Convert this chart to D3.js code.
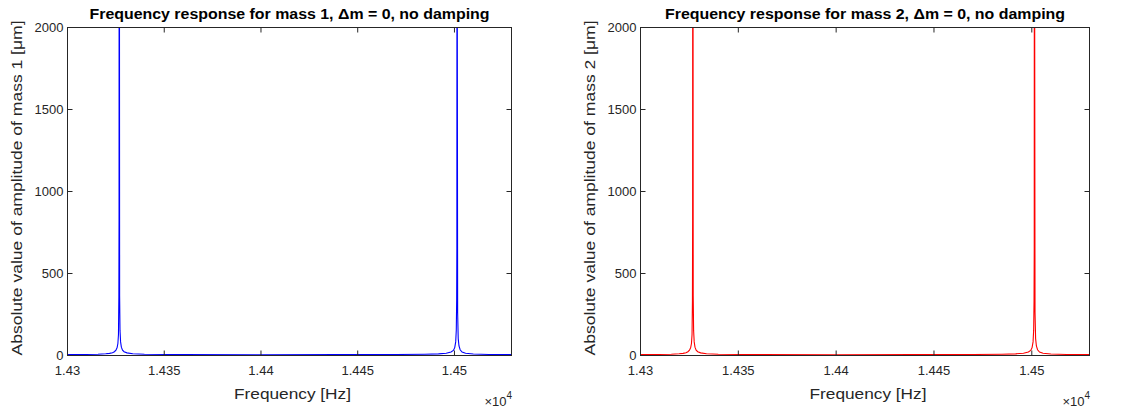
<!DOCTYPE html>
<html>
<head>
<meta charset="utf-8">
<script src="https://cdn.jsdelivr.net/npm/d3@7"></script>
<style>
  body { margin: 0; background: #fff; }
  svg text { font-family: "Liberation Sans", Arial, sans-serif; }
</style>
</head>
<body>
<div id="chart"></div>
<script>
// frequency samples [Hz]
const freq = [14300, 14310, 14316, 14320, 14322, 14323.5, 14324.5, 14325.3, 14325.9, 14326.3,
  14326.6, 14326.8, 14326.9, 14327.0, 14327.1, 14327.2, 14327.4, 14327.7, 14328.1, 14328.7,
  14329.5, 14331, 14334, 14340, 14360, 14400, 14440, 14470, 14485, 14492,
  14496, 14498.5, 14499.7, 14500.4, 14500.9, 14501.2, 14501.4, 14501.5, 14501.6, 14501.7,
  14501.9, 14502.2, 14502.6, 14503.2, 14504.2, 14506, 14510, 14518, 14530];

// amplitude of mass 1 [um]
const amp1 = [2.5, 3.5, 5, 7.5, 10, 14, 20, 30, 45, 70,
  125, 350, 820, 6000, 2600, 360, 150, 80, 48, 30,
  20, 13, 7.5, 4.5, 2.5, 1.5, 2, 3, 5, 7,
  11, 18, 28, 45, 80, 150, 330, 650, 5000, 2400,
  260, 100, 55, 32, 18, 11, 6, 3.5, 2];

// amplitude of mass 2 [um]
const amp2 = [2.5, 3.5, 5, 7.5, 10, 14, 20, 30, 45, 70,
  125, 330, 830, 6000, 2600, 360, 150, 80, 48, 30,
  20, 13, 7.5, 4.5, 2.5, 1.5, 2, 3, 5, 7,
  11, 18, 28, 45, 80, 150, 330, 650, 5000, 2400,
  260, 100, 55, 32, 18, 11, 6, 3.5, 2];

const xTicks = [14300, 14350, 14400, 14450, 14500];
const xTickLabels = ['1.43', '1.435', '1.44', '1.445', '1.45'];
const yTicks = [0, 500, 1000, 1500, 2000];

const panels = [
  { title: 'Frequency response for mass 1, \u0394m = 0, no damping',
    ylabel: 'Absolute value of amplitude of mass 1 [\u03bcm]',
    values: amp1, color: '#0000ff', left: 67, right: 512, labelX: 17 },
  { title: 'Frequency response for mass 2, \u0394m = 0, no damping',
    ylabel: 'Absolute value of amplitude of mass 2 [\u03bcm]',
    values: amp2, color: '#ff0000', left: 640, right: 1090, labelX: 590 }
];

const plotTop = 27, plotBottom = 355;
const axisColor = '#262626';

const svg = d3.select('#chart')
  .append('svg')
  .attr('width', 1135)
  .attr('height', 412);

panels.forEach((p, i) => {
  const x = d3.scaleLinear().domain([14300, 14530]).range([p.left, p.right]);
  const y = d3.scaleLinear().domain([0, 2000]).range([plotBottom, plotTop]);

  const g = svg.append('g');

  g.append('clipPath')
    .attr('id', 'clip' + i)
    .append('rect')
    .attr('x', p.left)
    .attr('y', plotTop)
    .attr('width', p.right - p.left)
    .attr('height', plotBottom - plotTop);

  const line = d3.line()
    .x((d, j) => x(freq[j]))
    .y(d => y(d));

  g.append('path')
    .datum(p.values)
    .attr('clip-path', 'url(#clip' + i + ')')
    .attr('fill', 'none')
    .attr('stroke', p.color)
    .attr('stroke-width', 1.1)
    .attr('d', line);

  // box
  g.append('rect')
    .attr('x', p.left + 0.5)
    .attr('y', plotTop + 0.5)
    .attr('width', p.right - p.left - 1)
    .attr('height', plotBottom - plotTop)
    .attr('fill', 'none')
    .attr('stroke', axisColor)
    .attr('stroke-width', 1);

  // axes with inward ticks
  const xb = g.append('g')
    .attr('transform', 'translate(0,' + (plotBottom + 0.5) + ')')
    .call(d3.axisBottom(x).tickValues(xTicks).tickSizeInner(-5).tickSizeOuter(0)
      .tickFormat((d, j) => xTickLabels[j]));
  xb.select('.domain').remove();
  xb.selectAll('.tick line').attr('stroke', axisColor);
  xb.selectAll('.tick text').attr('y', 10).attr('dy', '0.71em')
    .attr('fill', axisColor).style('font-size', '13px');

  const xt = g.append('g')
    .attr('transform', 'translate(0,' + (plotTop + 0.5) + ')')
    .call(d3.axisTop(x).tickValues(xTicks).tickSizeInner(-5).tickSizeOuter(0).tickFormat(''));
  xt.select('.domain').remove();
  xt.selectAll('.tick line').attr('stroke', axisColor);

  const yl = g.append('g')
    .attr('transform', 'translate(' + (p.left + 0.5) + ',0)')
    .call(d3.axisLeft(y).tickValues(yTicks).tickSizeInner(-5).tickSizeOuter(0)
      .tickFormat(d3.format('d')));
  yl.select('.domain').remove();
  yl.selectAll('.tick line').attr('stroke', axisColor);
  yl.selectAll('.tick text').attr('x', -4)
    .attr('fill', axisColor).style('font-size', '13px');

  const yr = g.append('g')
    .attr('transform', 'translate(' + (p.right - 0.5) + ',0)')
    .call(d3.axisRight(y).tickValues(yTicks).tickSizeInner(-5).tickSizeOuter(0).tickFormat(''));
  yr.select('.domain').remove();
  yr.selectAll('.tick line').attr('stroke', axisColor);

  // exponent
  const ex = g.append('text')
    .attr('x', p.right)
    .attr('y', 406)
    .attr('text-anchor', 'end')
    .attr('fill', axisColor)
    .style('font-size', '13px');
  ex.append('tspan').text('\u00d710');
  ex.append('tspan').attr('dy', -7).style('font-size', '10px').text('4');

  // labels
  g.append('text')
    .attr('x', (p.left + p.right) / 2 + 3)
    .attr('y', 399)
    .attr('text-anchor', 'middle')
    .attr('fill', axisColor)
    .attr('textLength', 117)
    .attr('lengthAdjust', 'spacingAndGlyphs')
    .style('font-size', '14px')
    .text('Frequency [Hz]');

  g.append('text')
    .attr('transform', 'translate(' + p.labelX + ',' + ((plotTop + plotBottom) / 2 - 3) + ') rotate(-90)')
    .attr('dy', '0.35em')
    .attr('text-anchor', 'middle')
    .attr('fill', axisColor)
    .attr('textLength', 335)
    .attr('lengthAdjust', 'spacingAndGlyphs')
    .style('font-size', '14px')
    .text(p.ylabel);

  g.append('text')
    .attr('x', (p.left + p.right) / 2)
    .attr('y', 19)
    .attr('text-anchor', 'middle')
    .attr('fill', '#000')
    .attr('textLength', 400)
    .attr('lengthAdjust', 'spacingAndGlyphs')
    .style('font-size', '14px')
    .style('font-weight', 'bold')
    .text(p.title);
});
</script>
</body>
</html>
